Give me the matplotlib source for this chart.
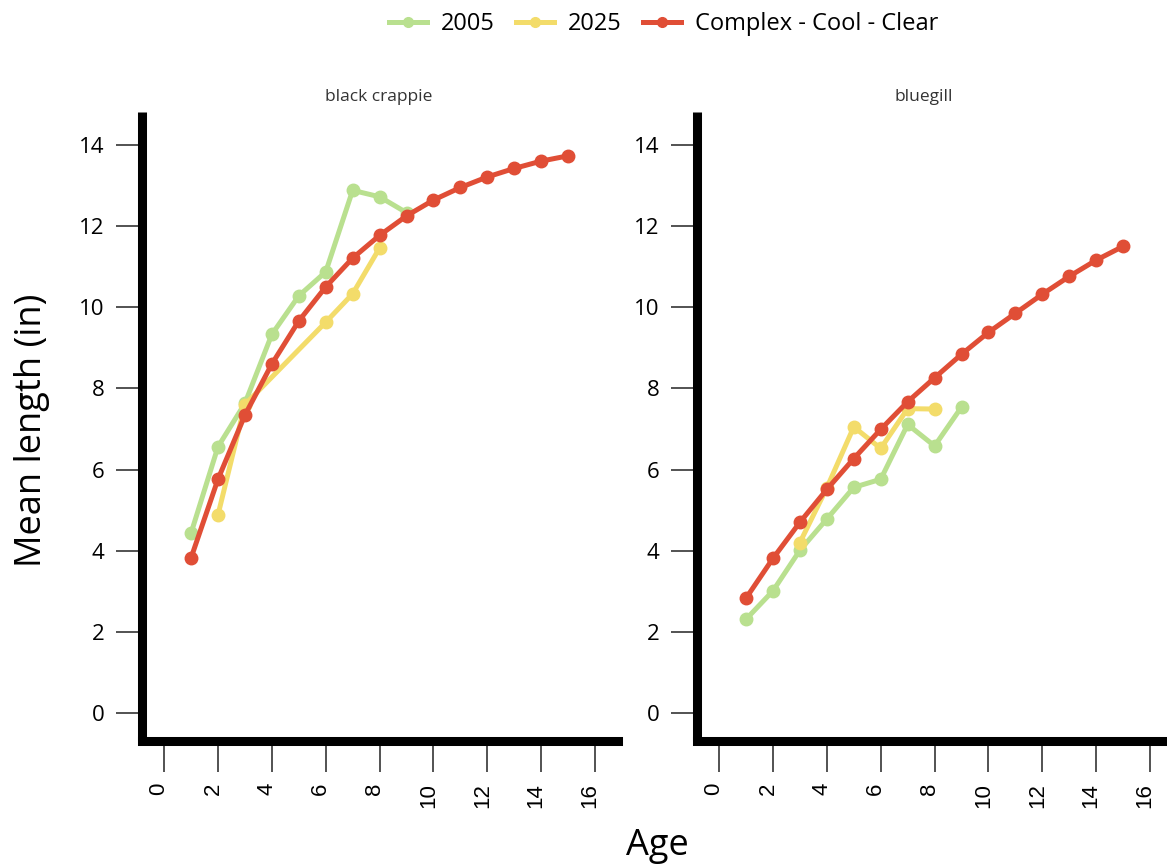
import matplotlib
matplotlib.use("Agg")
import matplotlib.pyplot as plt
import matplotlib.transforms as mtransforms
from matplotlib.lines import Line2D

plt.rcParams['font.family'] = ['Open Sans', 'DejaVu Sans']

# data
panels = ["black crappie", "bluegill"]

crappie_2005_age = [1, 2, 3, 4, 5, 6, 7, 8, 9]
crappie_2005_len = [4.43, 6.56, 7.63, 9.33, 10.28, 10.87, 12.88, 12.72, 12.33]
crappie_2025_age = [2, 3, 6, 7, 8]
crappie_2025_len = [4.88, 7.6, 9.63, 10.33, 11.46]
crappie_ref_age = list(range(1, 16))
crappie_ref_len = [3.82, 5.76, 7.34, 8.6, 9.66, 10.5, 11.21, 11.77, 12.25,
                   12.64, 12.95, 13.21, 13.42, 13.6, 13.73]

bluegill_2005_age = [1, 2, 3, 4, 5, 6, 7, 8, 9]
bluegill_2005_len = [2.31, 3.01, 4.01, 4.78, 5.56, 5.76, 7.11, 6.58, 7.54]
bluegill_2025_age = [3, 4, 5, 6, 7, 8]
bluegill_2025_len = [4.2, 5.55, 7.05, 6.52, 7.5, 7.49]
bluegill_ref_age = list(range(1, 16))
bluegill_ref_len = [2.83, 3.81, 4.70, 5.51, 6.27, 6.99, 7.67, 8.26, 8.84,
                    9.38, 9.85, 10.32, 10.76, 11.16, 11.5]

series_names = ["2005", "2025", "Complex - Cool - Clear"]
colors = ["#b9e08f", "#f3dc6a", "#e04e36"]

data = {
    "black crappie": [(crappie_2005_age, crappie_2005_len),
                      (crappie_2025_age, crappie_2025_len),
                      (crappie_ref_age, crappie_ref_len)],
    "bluegill": [(bluegill_2005_age, bluegill_2005_len),
                 (bluegill_2025_age, bluegill_2025_len),
                 (bluegill_ref_age, bluegill_ref_len)],
}

fig = plt.figure(figsize=(11.67, 8.67), dpi=100)

W, H = 1167, 867
ax_w = 476
ax_top, ax_bot = 112, 741
lefts = [142, 697]
title_x = [0.497, 0.476]

for i, name in enumerate(panels):
    ax = fig.add_axes([lefts[i] / W, 1 - ax_bot / H, ax_w / W, (ax_bot - ax_top) / H])
    for (age, length), col in zip(data[name], colors):
        ax.plot(age, length, color=col, lw=3.6, marker='o', ms=9,
                solid_capstyle='round', clip_on=False)
    ax.set_xlim(-0.82, 16.85)
    ax.set_ylim(-0.69, 14.81)
    ax.set_xticks(range(0, 17, 2))
    ax.set_yticks(range(0, 15, 2))
    for s in ["top", "right"]:
        ax.spines[s].set_visible(False)
    for s in ["left", "bottom"]:
        ax.spines[s].set_linewidth(6.5)
        ax.spines[s].set_color("black")
    ax.spines["left"].set_capstyle("butt")
    ax.spines["bottom"].set_capstyle("projecting")
    ax.tick_params(axis='y', length=19, width=1.3, color="#444444", pad=8,
                   labelsize=16)
    ax.tick_params(axis='x', length=22, width=1.3, color="#444444", pad=8,
                   labelsize=16, labelrotation=90)
    shift = mtransforms.ScaledTranslation(-5 / 100, 0, fig.dpi_scale_trans)
    for lab in ax.get_xticklabels():
        lab.set_fontfamily("Liberation Sans")
        lab.set_transform(lab.get_transform() + shift)
    t = ax.set_title(name, fontsize=12.5, color="#333333", pad=8)
    t.set_x(title_x[i])

fig.text(32 / W, 1 - 430 / H, "Mean length (in)", rotation=90, fontsize=26,
         ha='center', va='center')
fig.text(657 / W, 1 - 846 / H, "Age", fontsize=26, ha='center', va='center')

handles = [Line2D([], [], color=c, lw=3.6, marker='o', ms=7) for c in colors]
fig.legend(handles, series_names, loc='center', bbox_to_anchor=(664 / W, 1 - 24 / H),
           ncol=3, frameon=False, fontsize=17, handlelength=1.6,
           handletextpad=0.6, columnspacing=0.9)

fig.savefig("out.png", dpi=100)
